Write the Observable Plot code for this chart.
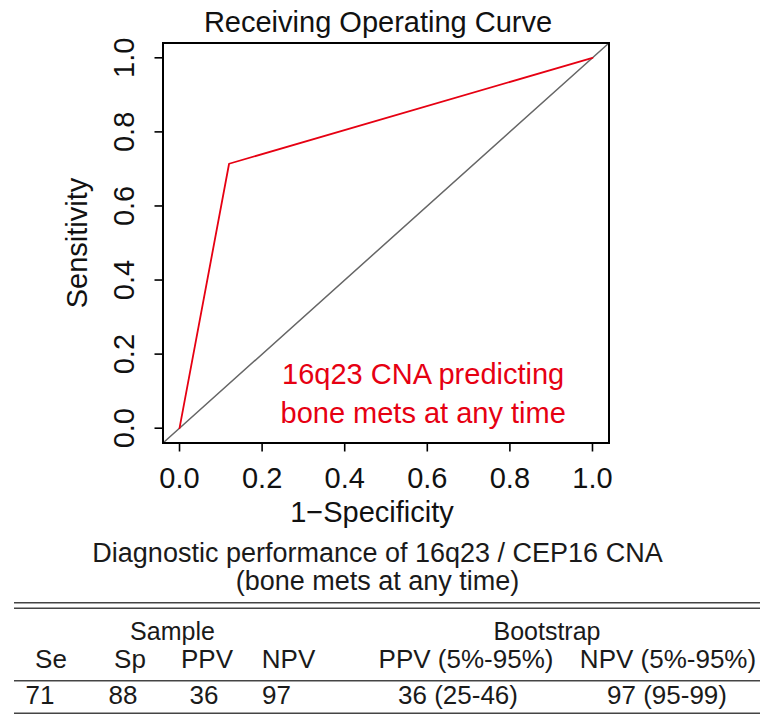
<!DOCTYPE html>
<html><head><meta charset="utf-8">
<script src="https://cdn.jsdelivr.net/npm/d3@7"></script>
<script src="https://cdn.jsdelivr.net/npm/@observablehq/plot@0.6"></script>
<style>
body{margin:0;background:#fff;}
#wrap{width:769px;}
#wrap svg{display:block;}
svg text{font-family:"Liberation Sans",Arial,Helvetica,sans-serif;}
</style></head><body><div id="wrap"></div>
<script>
// ---- data ----
const fpr = [0, 0.12, 1];
const tpr = [0, 0.714, 1];
const xDomain = [-0.04, 1.04];
const yDomain = [-0.04, 1.04];
const ticks = [0, 0.2, 0.4, 0.6, 0.8, 1.0];
const title = "Receiving Operating Curve";
const xLabel = "1\u2212Specificity";
const yLabel = "Sensitivity";
const annotation = "16q23 CNA predicting\nbone mets at any time";
const annPos = {x: 0.59, y: 0.1};
const captionLines = ["Diagnostic performance of 16q23 / CEP16 CNA", "(bone mets at any time)"];
const groupHeaders = ["Sample", "Bootstrap"];
const colHeaders = ["Se", "Sp", "PPV", "NPV", "PPV (5%-95%)", "NPV (5%-95%)"];
const rowValues = ["71", "88", "36", "97", "36 (25-46)", "97 (95-99)"];

const roc = fpr.map((x, i) => ({x, y: tpr[i]}));
const diag = xDomain.map(v => ({x: v, y: v}));

const RED = "#e60012";
const FS = 29;
const chart = Plot.plot({
  width: 769, height: 530,
  marginTop: 42.5, marginLeft: 162.5, marginRight: 160.5, marginBottom: 87.5,
  style: {fontFamily: "Liberation Sans, Arial, Helvetica, sans-serif", fontSize: FS + "px", color: "#111", background: "#fff", overflow: "visible"},
  x: {domain: xDomain},
  y: {domain: yDomain},
  marks: [
    Plot.line(diag, {x: "x", y: "y", stroke: "#666", strokeWidth: 1.5}),
    Plot.line(roc, {x: "x", y: "y", stroke: RED, strokeWidth: 1.8}),
    Plot.frame({stroke: "#000", strokeWidth: 2}),
    Plot.axisX({ticks, tickSize: 9, tickPadding: 15, tickFormat: d3.format(".1f"), label: null, fontSize: FS, stroke: "#000", strokeWidth: 1.6}),
    Plot.axisY({ticks, tickSize: 8, tickPadding: 21.5, tickRotate: -90, tickFormat: d3.format(".1f"), label: null, fontSize: FS, stroke: "#000", strokeWidth: 1.6}),
    Plot.text([title], {text: d => d, frameAnchor: "top", lineAnchor: "bottom", dy: -11, dx: -8, fontSize: FS}),
    Plot.text([xLabel], {text: d => d, frameAnchor: "bottom", lineAnchor: "bottom", dy: 78.5, dx: -14, fontSize: FS}),
    Plot.text([yLabel], {text: d => d, frameAnchor: "left", lineAnchor: "bottom", textAnchor: "middle", rotate: -90, dx: -76, fontSize: FS}),
    Plot.text([{...annPos, label: annotation}], {x: "x", y: "y", text: "label", fill: RED, fontSize: FS, lineHeight: 1.33, lineAnchor: "middle", textAnchor: "middle"})
  ]
});
document.getElementById("wrap").appendChild(chart);

// ---- caption + table below the chart ----
const W = 769, H = 188;
const svg = d3.create("svg").attr("width", W).attr("height", H).attr("viewBox", `0 0 ${W} ${H}`);
const ink = "#1a1a1a";
svg.selectAll("text.cap").data(captionLines).join("text")
  .attr("x", 377.5).attr("y", (d, i) => [32, 60][i])
  .attr("text-anchor", "middle").attr("font-size", 27).attr("fill", ink).text(d => d);
svg.selectAll("line").data([72.7, 78.3, 150.7, 183.3]).join("line")
  .attr("x1", 14).attr("x2", 760).attr("y1", d => d).attr("y2", d => d)
  .attr("stroke", "#444").attr("stroke-width", 1.5);
const groupX = [172.5, 547];
svg.selectAll("text.grp").data(groupHeaders).join("text")
  .attr("x", (d, i) => groupX[i]).attr("y", 110)
  .attr("text-anchor", "middle").attr("font-size", 25).attr("fill", ink).text(d => d);
const headX = [51, 130, 207, 288.5, 466, 668];
svg.selectAll("text.hd").data(colHeaders).join("text")
  .attr("x", (d, i) => headX[i]).attr("y", 138)
  .attr("text-anchor", "middle").attr("font-size", 26).attr("fill", ink).text(d => d);
const valX = [40, 123, 204, 276.5, 458, 667];
svg.selectAll("text.val").data(rowValues).join("text")
  .attr("x", (d, i) => valX[i]).attr("y", 174)
  .attr("text-anchor", "middle").attr("font-size", 26).attr("fill", ink).text(d => d);
document.getElementById("wrap").appendChild(svg.node());
</script></body></html>
